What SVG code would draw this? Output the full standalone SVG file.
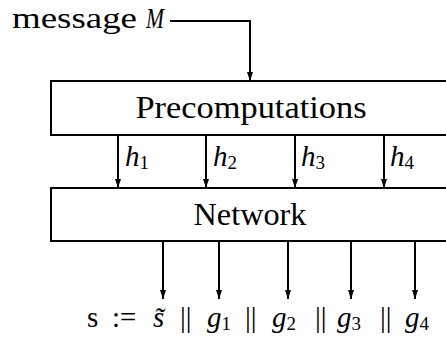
<svg xmlns="http://www.w3.org/2000/svg" width="446" height="338" viewBox="0 0 446 338" font-family="'Liberation Serif','Times New Roman','DejaVu Serif',serif">
<style>
.box{fill:#fff;stroke:#000;stroke-width:2}
.ln{fill:none;stroke:#000;stroke-width:2}
text{font-family:"Liberation Serif","Times New Roman","DejaVu Serif",serif;fill:#000}
.it{font-style:italic}
.sub{font-size:19px;font-style:normal}
</style>
<defs>
<marker id="ad" markerUnits="userSpaceOnUse" markerWidth="8" markerHeight="10" viewBox="-4 -9 8 10" refX="0" refY="0" orient="0">
<path d="M-3,-9 L3,-9 L0,0 Z" fill="#000"/>
</marker>
</defs>
<g id="message">
<text x="12" y="28" font-size="29" textLength="125" lengthAdjust="spacingAndGlyphs">message</text>
<text x="146" y="28" font-size="29" class="it" textLength="18" lengthAdjust="spacingAndGlyphs">M</text>
</g>
<g id="precomputations">
<rect class="box" x="51" y="81" width="410" height="54"/>
<text x="251" y="118" font-size="32" text-anchor="middle" textLength="231" lengthAdjust="spacingAndGlyphs">Precomputations</text>
</g>
<g id="network">
<rect class="box" x="51" y="188" width="410" height="53"/>
<text x="250" y="225" font-size="32" text-anchor="middle" textLength="113" lengthAdjust="spacingAndGlyphs">Network</text>
</g>
<g id="connectors">
<path class="ln" d="M170,21 H250 V81" marker-end="url(#ad)"/>
<path class="ln" d="M118,135 V188" marker-end="url(#ad)"/>
<path class="ln" d="M206,135 V188" marker-end="url(#ad)"/>
<path class="ln" d="M295,135 V188" marker-end="url(#ad)"/>
<path class="ln" d="M384,135 V188" marker-end="url(#ad)"/>
<path class="ln" d="M163,241 V299" marker-end="url(#ad)"/>
<path class="ln" d="M219,241 V299" marker-end="url(#ad)"/>
<path class="ln" d="M288,241 V299" marker-end="url(#ad)"/>
<path class="ln" d="M351,241 V299" marker-end="url(#ad)"/>
<path class="ln" d="M415,241 V299" marker-end="url(#ad)"/>
</g>
<g id="hlabels" font-size="29">
<text x="125" y="166" class="it">h<tspan class="sub" dy="3">1</tspan></text>
<text x="213" y="166" class="it">h<tspan class="sub" dy="3">2</tspan></text>
<text x="301" y="166" class="it">h<tspan class="sub" dy="3">3</tspan></text>
<text x="390" y="166" class="it">h<tspan class="sub" dy="3">4</tspan></text>
</g>
<g id="result" font-size="29">
<text x="87" y="327">s</text>
<text x="112" y="327">:=</text>
<text x="153" y="327" class="it">s̃</text>
<text x="180" y="327">||</text>
<text x="207" y="327" class="it">g<tspan class="sub" dy="3">1</tspan></text>
<text x="245" y="327">||</text>
<text x="272" y="327" class="it">g<tspan class="sub" dy="3">2</tspan></text>
<text x="315" y="327">||</text>
<text x="337" y="327" class="it">g<tspan class="sub" dy="3">3</tspan></text>
<text x="380" y="327">||</text>
<text x="405" y="327" class="it">g<tspan class="sub" dy="3">4</tspan></text>
</g>
</svg>
